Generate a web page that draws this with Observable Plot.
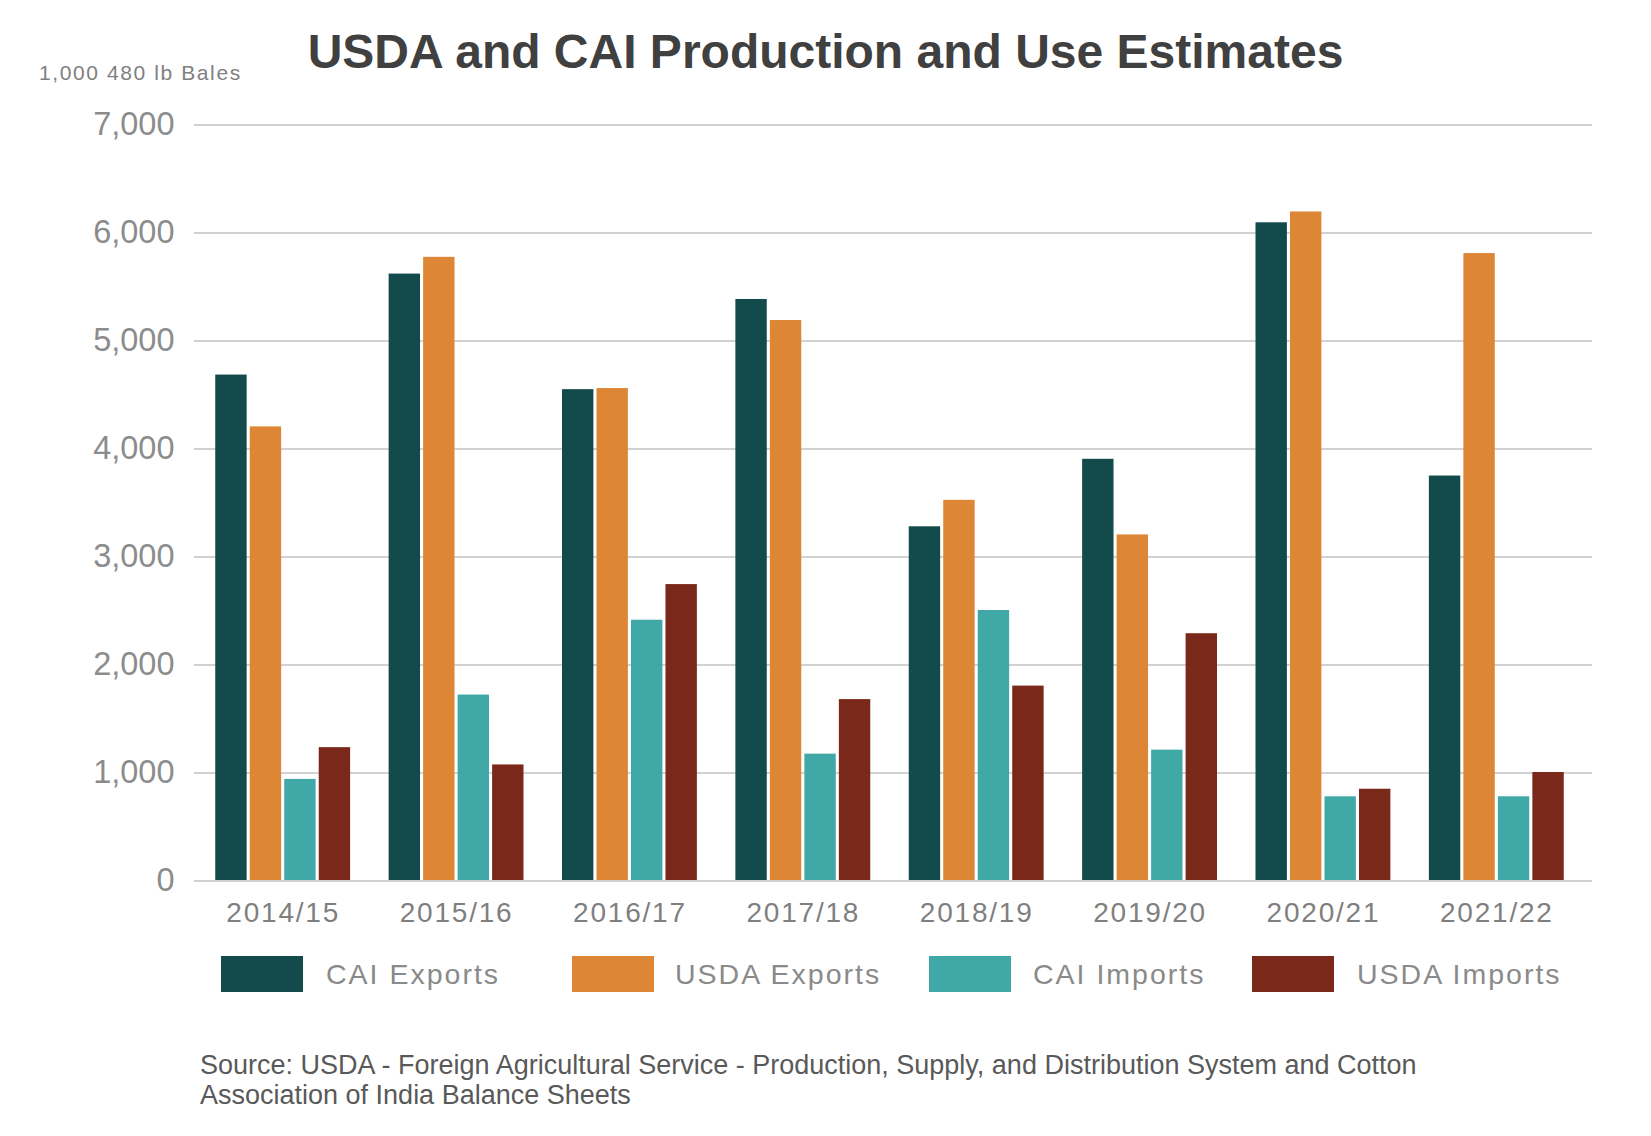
<!DOCTYPE html>
<html>
<head>
<meta charset="utf-8">
<script src="https://cdn.jsdelivr.net/npm/d3@7"></script>
<script src="https://cdn.jsdelivr.net/npm/@observablehq/plot@0.6"></script>
<style>
  body { margin: 0; background: #fff; font-family: "Liberation Sans", Arial, Helvetica, sans-serif; }
  #wrap { position: relative; width: 1651px; height: 1136px; overflow: hidden; background: #fff; }
  #title { position: absolute; left: 0; top: 28px; width: 1651px; text-align: center; font-weight: bold;
           font-size: 48px; line-height: 48px; color: #404040; white-space: nowrap; }
  #ylabel { position: absolute; left: 39px; top: 62px; font-size: 21px; line-height: 21px;
            letter-spacing: 1.6px; color: #808080; white-space: nowrap; }
  #chart { position: absolute; left: 0; top: 100px; }
  #legend .sw { position: absolute; top: 956px; width: 82px; height: 36px; }
  #legend .lt { position: absolute; top: 958px; font-size: 28.5px; line-height: 32px; letter-spacing: 2px;
                color: #8a8a8a; white-space: nowrap; }
  #source { position: absolute; left: 200px; top: 1051px; font-size: 27px; line-height: 29.5px; color: #595959;
            white-space: nowrap; }
  #chart [aria-label^="y-axis"] text { font-size: 32.5px; fill: #8c8c8c; }
  #chart [aria-label^="fx-axis"] text { font-size: 28px; letter-spacing: 1.8px; fill: #7f7f7f; }
</style>
</head>
<body>
<div id="wrap">
  <div id="title"></div>
  <div id="ylabel"></div>
  <div id="chart"></div>
  <div id="legend"></div>
  <div id="source"></div>
</div>
<script>
// ---- data ----
const titleText = "USDA and CAI Production and Use Estimates";
const yLabelText = "1,000 480 lb Bales";
const sourceLines = [
  "Source: USDA - Foreign Agricultural Service - Production, Supply, and Distribution System and Cotton",
  "Association of India Balance Sheets"
];
const years = ["2014/15", "2015/16", "2016/17", "2017/18", "2018/19", "2019/20", "2020/21", "2021/22"];
const series = ["CAI Exports", "USDA Exports", "CAI Imports", "USDA Imports"];
const caiExports  = [4680, 5615, 4545, 5380, 3275, 3900, 6090, 3745];
const usdaExports = [4200, 5770, 4555, 5185, 3520, 3200, 6190, 5805];
const caiImports  = [936, 1717, 2410, 1170, 2500, 1207, 775, 775];
const usdaImports = [1230, 1070, 2740, 1675, 1800, 2285, 845, 1000];
const colors = ["#134a4b", "#dd8636", "#40a8a6", "#7a2819"];
const yTicks = [0, 1000, 2000, 3000, 4000, 5000, 6000, 7000];

// ---- table built from the arrays ----
const valuesBySeries = [caiExports, usdaExports, caiImports, usdaImports];
const data = [];
years.forEach((year, i) => {
  series.forEach((s, j) => data.push({year, series: s, value: valuesBySeries[j][i]}));
});

document.getElementById("title").textContent = titleText;
document.getElementById("ylabel").textContent = yLabelText;
document.getElementById("source").innerHTML = sourceLines.map(l => l.replace(/&/g, "&amp;")).join("<br>");

const chart = Plot.plot({
  width: 1651,
  height: 840,
  marginLeft: 196,
  marginRight: 68,
  marginTop: 24,
  marginBottom: 60,
  style: {fontFamily: "'Liberation Sans', Arial, Helvetica, sans-serif", background: "transparent", overflow: "visible"},
  fx: {domain: years, padding: 0, round: false, label: null, axis: "bottom", tickSize: 0, tickPadding: 22},
  x: {domain: series, paddingInner: 0.09, paddingOuter: 0.558, round: false, axis: null},
  y: {domain: [0, 7000], ticks: yTicks, tickFormat: d3.format(","), tickSize: 0, tickPadding: 22, label: null},
  color: {domain: series, range: colors},
  marks: [
    Plot.ruleY(yTicks, {stroke: "#d2d2d2", strokeWidth: 2, insetLeft: -2, insetRight: -9, shapeRendering: "crispEdges"}),
    Plot.barY(data, {fx: "year", x: "series", y: "value", fill: "series"})
  ]
});
document.getElementById("chart").appendChild(chart);

// ---- legend (HTML) ----
const swatchLeft = [221, 572, 929, 1252];
const textLeft = [326, 675, 1033, 1357];
const legend = document.getElementById("legend");
series.forEach((s, i) => {
  const sw = document.createElement("div");
  sw.className = "sw";
  sw.style.left = swatchLeft[i] + "px";
  sw.style.background = colors[i];
  legend.appendChild(sw);
  const t = document.createElement("div");
  t.className = "lt";
  t.style.left = textLeft[i] + "px";
  t.textContent = s;
  legend.appendChild(t);
});
</script>
</body>
</html>
